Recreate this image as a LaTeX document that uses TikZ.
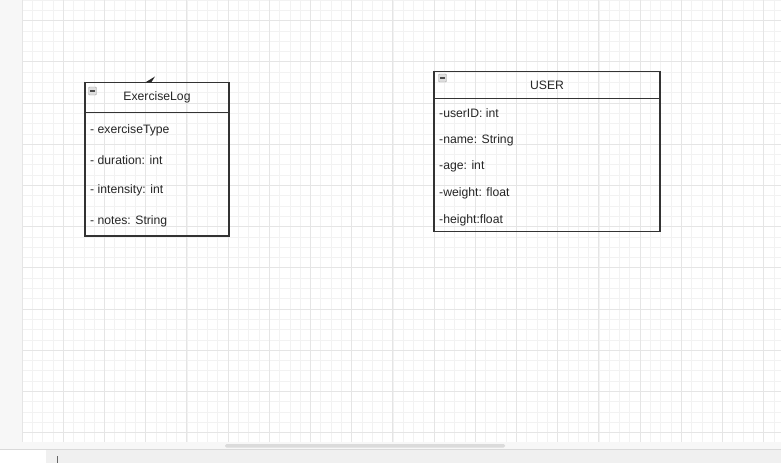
\documentclass[tikz,border=0pt]{standalone}
\usepackage{fontspec}
\setmainfont{Liberation Sans}
\usetikzlibrary{positioning,backgrounds}

\begin{document}
\begin{tikzpicture}[
    x=1pt, y=-1pt,
    font=\fontsize{12.2}{14}\selectfont,
    node distance=0pt,
    minorline/.style={draw=black!5, line width=0.6pt},
    majorline/.style={draw=black!10, line width=0.8pt},
    classhead/.style={rectangle, draw=black!80, line width=1.2pt, inner sep=0pt, outer sep=0pt, text=black!85, minimum width=#1},
    classbody/.style={rectangle, draw=black!80, line width=1.2pt, inner sep=0pt, outer sep=0pt, minimum width=#1},
    attr/.style={anchor=west, inner sep=0pt, text=black!85},
    togglebox/.style={rectangle, draw=black!35, fill=black!13, rounded corners=1pt, minimum size=8pt, inner sep=0pt},
    toggleline/.style={draw=black!70, line width=1.3pt}
]
    \useasboundingbox (0,0) rectangle (781,463);

    % editor background and grid
    \fill[black!3] (0,0) rectangle (781,463);
    \fill[white] (22,0) rectangle (781,442);
    \begin{scope}
        \clip (22,0) rectangle (781,442);
        \foreach \i in {0,...,74}
            \draw[minorline] ({22+10.3*\i},0) -- ({22+10.3*\i},442);
        \foreach \j in {0,...,43}
            \draw[minorline] (22,{-0.1+10.3*\j}) -- (781,{-0.1+10.3*\j});
        \foreach \i in {0,...,18}
            \draw[majorline] ({22+41.2*\i},0) -- ({22+41.2*\i},442);
        \foreach \j in {0,...,10}
            \draw[majorline] (22,{20.5+41.2*\j}) -- (781,{20.5+41.2*\j});
    \end{scope}

    % scrollbar and page tabs
    \fill[black!14, rounded corners=1.5pt] (225,444) rectangle (505,447.5);
    \fill[black!6] (0,449) rectangle (781,463);
    \draw[black!15] (0,449) -- (781,449);
    \fill[white] (0,449.5) rectangle (46,463);
    \draw[black!60] (57.5,456) -- (57.5,463);

    % ExerciseLog class
    \node[classhead=144pt, minimum height=30.4pt] (logHead) at (157,97.5) {ExerciseLog};
    \node[classbody=144pt, minimum height=123.3pt, below=of logHead] (logBody) {};
    \node[togglebox] (logToggle) at (92.5,91) {};
    \draw[toggleline] ([xshift=2pt]logToggle.west) -- ([xshift=-2pt]logToggle.east);
    \node[attr] (logType) at (90,130) {- exerciseType};
    \node[attr] (logDuration) at (90,160.5) {- duration: int};
    \node[attr] (logIntensity) at (90,190.5) {- intensity: int};
    \node[attr] (logNotes) at (90,221.5) {- notes: String};
    \fill[black!85] (146,82) -- (155,76.5) -- (151.5,82) -- cycle;

    % USER class
    \node[classhead=226pt, minimum height=26.6pt] (userHead) at (547,85) {USER};
    \node[classbody=226pt, minimum height=133.4pt, below=of userHead] (userBody) {};
    \node[togglebox] (userToggle) at (442.5,78) {};
    \draw[toggleline] ([xshift=2pt]userToggle.west) -- ([xshift=-2pt]userToggle.east);
    \node[attr] (userId) at (439,113.5) {-userID: int};
    \node[attr] (userName) at (439,140.5) {-name: String};
    \node[attr] (userAge) at (439,166.5) {-age: int};
    \node[attr] (userWeight) at (439,193.5) {-weight: float};
    \node[attr] (userHeight) at (439,220) {-height:float};
\end{tikzpicture}
\end{document}
